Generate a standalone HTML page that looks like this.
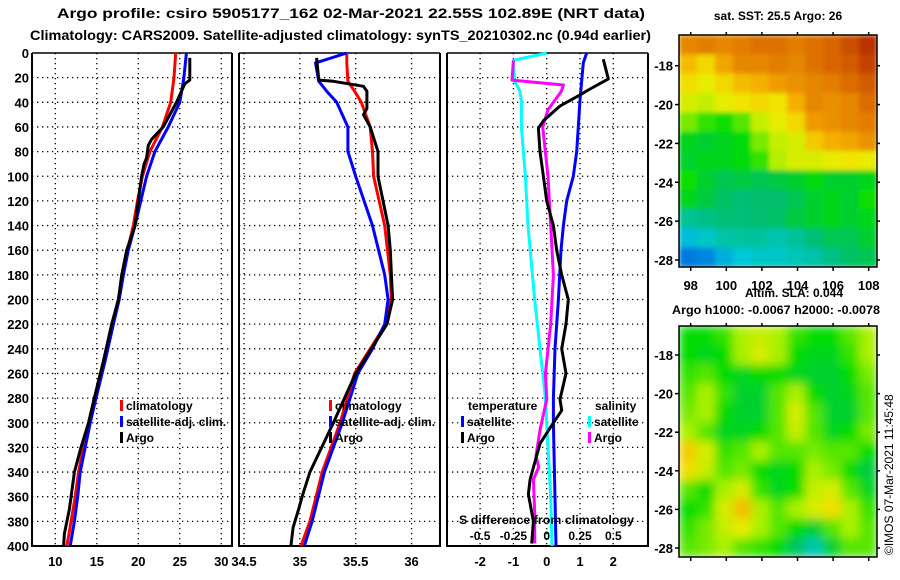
<!DOCTYPE html>
<html><head><meta charset="utf-8"><style>
html,body{margin:0;padding:0;background:#fff;}
svg{display:block;font-family:"Liberation Sans",sans-serif;font-weight:bold;}
</style></head><body>
<svg id="chart" width="900" height="580" viewBox="0 0 900 580" xmlns="http://www.w3.org/2000/svg">
<defs>
<filter id="soft" x="0" y="0" width="1" height="1"><feGaussianBlur stdDeviation="5" edgeMode="duplicate"/></filter>
<filter id="soft2" x="0" y="0" width="1" height="1"><feGaussianBlur stdDeviation="2.5" edgeMode="duplicate"/></filter>
<clipPath id="clipSst"><rect x="679" y="35" width="198" height="232"/></clipPath>
<clipPath id="clipSla"><rect x="679" y="326" width="198" height="231"/></clipPath>
</defs>
<text x="57" y="18" font-size="14" textLength="588" lengthAdjust="spacingAndGlyphs">Argo profile: csiro 5905177_162 02-Mar-2021 22.55S 102.89E (NRT data)</text>
<text x="30" y="40" font-size="14" textLength="621" lengthAdjust="spacingAndGlyphs">Climatology: CARS2009. Satellite-adjusted climatology: synTS_20210302.nc (0.94d earlier)</text>
<g id="plots"></g>
<text x="778" y="20" font-size="12" text-anchor="middle">sat. SST: 25.5 Argo: 26</text>
<text x="745" y="297" font-size="12">Altim. SLA: 0.044</text>
<text x="672" y="314" font-size="12" textLength="208" lengthAdjust="spacingAndGlyphs">Argo h1000: -0.0067 h2000: -0.0078</text>
<text transform="translate(893,555) rotate(-90)" font-size="12" font-weight="normal">©IMOS 07-Mar-2021 11:45:48</text>
</svg>
<script>
// ---- profile data (depth m) ----
const depthClim = [0,20,40,60,80,100,120,140,160,180,200,220,250,280,300,320,340,360,380,400];
const tempClim  = [24.5,24.3,23.9,22.9,21.4,20.5,19.9,19.4,18.7,18.1,17.6,16.9,15.9,14.8,14.1,13.4,12.8,12.4,11.9,11.4];
const tempSat   = [25.8,25.5,25.0,23.6,22.0,21.0,20.3,19.6,18.8,18.2,17.7,17.0,16.0,14.9,14.2,13.6,13.0,12.7,12.3,11.8];
const depthArgoT = [4,22,25,40,60,70,75,85,90,100,120,140,160,180,200,220,250,280,300,320,340,360,370,380,390,400];
const tempArgo   = [26.2,26.2,25.6,24.6,23.0,21.6,21.2,21.0,20.7,20.4,20.0,19.6,18.6,18.0,17.6,16.8,15.8,14.7,14.0,13.1,12.3,11.9,11.7,11.4,11.1,11.0];

const salDepth = [0,8,23,31,40,60,80,100,140,180,200,220,240,260,300,340,380,400];
const salClim  = [35.42,35.42,35.43,35.49,35.55,35.63,35.65,35.66,35.76,35.81,35.82,35.77,35.63,35.49,35.36,35.20,35.09,35.01];
const salSat   = [35.42,35.14,35.17,35.24,35.33,35.43,35.43,35.50,35.65,35.76,35.79,35.76,35.65,35.52,35.38,35.22,35.11,35.04];
const salArgoDepth = [4,22,23,27,31,45,50,60,80,100,140,160,180,200,220,240,260,300,340,360,370,385,400];
const salArgo      = [35.15,35.17,35.30,35.57,35.60,35.60,35.57,35.63,35.70,35.70,35.79,35.81,35.82,35.83,35.78,35.64,35.50,35.30,35.09,35.02,34.99,34.94,34.92];

const diffDepthSatS = [0,6,23,31,40,60,100,140,200,240,280,320,360,400];
const diffSatS      = [0,-0.25,-0.24,-0.2,-0.19,-0.19,-0.16,-0.14,-0.09,-0.05,-0.01,0.01,0.03,0.04];
const diffDepthArgoS = [6,22,26,31,46,60,100,140,180,220,260,281,306,327,336,346,373,398];
const diffArgoS      = [-0.25,-0.26,0.125,0.11,0.01,-0.03,0.01,0.03,0.05,0.03,-0.01,0,-0.05,-0.08,-0.06,-0.1,-0.09,-0.09];
const diffDepthSatT = [0,8,38,60,80,100,120,140,160,200,240,280,300,350,400];
const diffSatT      = [1.2,1.1,1.0,0.95,0.9,0.8,0.6,0.5,0.43,0.35,0.25,0.2,0.2,0.24,0.28];
const diffDepthArgoT = [5,21,30,34,43,55,61,80,100,120,140,160,180,200,220,240,260,281,290,300,317,346,358,380,398];
const diffArgoT      = [1.7,1.85,1.25,1.0,0.4,-0.1,-0.25,-0.2,-0.1,0,0.2,0.3,0.45,0.65,0.58,0.45,0.58,0.4,0.45,0.2,-0.2,-0.5,-0.55,-0.4,-0.45];

// ---- map data (normalized colour values, rows N->S, cols W->E) ----
const sstGrid = [
[.80,.82,.80,.82,.84,.84,.82,.84,.86,.90,.95],
[.70,.66,.74,.80,.80,.82,.80,.84,.86,.88,.92],
[.65,.62,.66,.70,.72,.76,.78,.80,.82,.85,.88],
[.60,.58,.62,.64,.66,.64,.72,.80,.78,.80,.85],
[.52,.48,.46,.50,.58,.62,.66,.76,.78,.80,.82],
[.42,.40,.42,.44,.52,.58,.60,.68,.72,.74,.78],
[.40,.42,.42,.44,.48,.56,.60,.60,.62,.64,.62],
[.46,.40,.36,.38,.36,.38,.40,.44,.40,.40,.42],
[.42,.38,.34,.32,.33,.33,.36,.40,.42,.40,.46],
[.28,.30,.32,.32,.33,.34,.38,.40,.42,.40,.42],
[.18,.22,.26,.27,.27,.25,.28,.32,.36,.36,.40],
[.08,.10,.16,.20,.22,.22,.24,.26,.30,.34,.36]];
const slaGrid = [
[.45,.45,.48,.55,.58,.55,.48,.45,.45,.50,.55],
[.45,.42,.45,.55,.60,.55,.45,.42,.42,.48,.55],
[.48,.50,.45,.42,.45,.45,.42,.40,.40,.45,.52],
[.50,.55,.48,.40,.40,.50,.55,.45,.40,.42,.50],
[.52,.55,.45,.40,.40,.50,.60,.50,.40,.40,.50],
[.55,.50,.42,.42,.45,.50,.58,.50,.42,.45,.52],
[.68,.60,.48,.50,.55,.50,.50,.52,.50,.50,.45],
[.65,.58,.50,.52,.45,.42,.45,.55,.52,.45,.38],
[.50,.45,.55,.60,.48,.42,.45,.58,.60,.50,.42],
[.45,.48,.60,.70,.55,.50,.55,.60,.65,.55,.48],
[.48,.52,.58,.62,.55,.50,.45,.40,.50,.55,.50],
[.50,.52,.55,.50,.48,.45,.35,.25,.40,.50,.50]];
const latTicks = [-18,-20,-22,-24,-26,-28];
const lonTicks = [98,100,102,104,106,108];
const depthTicks = [0,20,40,60,80,100,120,140,160,180,200,220,240,260,280,300,320,340,360,380,400];

const NS = 'http://www.w3.org/2000/svg';
const root = document.getElementById('plots');
function el(tag, attrs, parent, txt){
  const e = document.createElementNS(NS, tag);
  for (const k in attrs) e.setAttribute(k, attrs[k]);
  if (txt !== undefined) e.textContent = txt;
  (parent||root).appendChild(e);
  return e;
}
const Y0 = 53, Y1 = 546;
function yD(d){ return Y0 + d*(Y1-Y0)/400; }

function axisPanel(name, x0, x1, xs, ticks, tickLabels){
  const g = el('g', {});
  
  
  depthTicks.forEach(d => {
    if (d===0 || d===400) return;
    const ln = el('line', {x1:x0, x2:x1, y1:yD(d), y2:yD(d), stroke:'#000','stroke-width':1.3,'stroke-dasharray':'1.3,3.7'}, g);
    
    
  });
  ticks.forEach((t,i) => {
    const x = xs(t);
    const ln = el('line', {x1:x, x2:x, y1:Y0, y2:Y1, stroke:'#000','stroke-width':1.3,'stroke-dasharray':'1.3,3.7'}, g);
    
    
    const tx = el('text', {x:x, y:566, 'font-size':13, 'text-anchor':'middle'}, g, tickLabels[i]);
    
    
  });
  const fr = el('path', {d:`M${x0},${Y0}V${Y1}H${x1}V${Y0}`, fill:'none', stroke:'#000','stroke-width':2}, g);
  
  
  el('line',{x1:x0,x2:x1,y1:Y0,y2:Y0,stroke:'#000','stroke-width':1.5},g);
  return g;
}
function series(name, xs, vals, depths, color){
  const pts = vals.map((v,i)=> xs(v).toFixed(1)+','+yD(depths[i]).toFixed(1)).join(' ');
  const p = el('polyline', {points:pts, fill:'none', stroke:color, 'stroke-width':3, 'stroke-linejoin':'round'});
  
  
}
function legend(name, x, y, color, label){
  const g = el('g', {});
  
  
  el('rect', {x:x, y:y-10, width:3, height:11, fill:color}, g);
  el('text', {x:x+6, y:y, 'font-size':12}, g, label);
}

depthTicks.forEach(d => {
  const t = el('text', {x:29, y:yD(d)+5, 'font-size':13, 'text-anchor':'end'}, root, String(d));
  
  
});

// Panel 1 temperature
const xT = t => 55.3 + (t-10)*8.3;
axisPanel('temperature-panel', 32, 232, xT, [10,15,20,25,30], ['10','15','20','25','30']);
series('temp-climatology-line', xT, tempClim, depthClim, '#f00');
series('temp-satellite-line', xT, tempSat, depthClim, '#00f');
series('temp-argo-line', xT, tempArgo, depthArgoT, '#000');
legend('legend-climatology', 120, 410, '#f00', 'climatology');
legend('legend-satellite-adj', 120, 426, '#00f', 'satellite-adj. clim.');
legend('legend-argo', 120, 442, '#000', 'Argo');

// Panel 2 salinity
const xS = s => 244 + (s-34.5)*111.7;
axisPanel('salinity-panel', 239, 440, xS, [34.5,35,35.5,36], ['34.5','35','35.5','36']);
series('sal-climatology-line', xS, salClim, salDepth, '#f00');
series('sal-satellite-line', xS, salSat, salDepth, '#00f');
series('sal-argo-line', xS, salArgo, salArgoDepth, '#000');
legend('legend-climatology-2', 329, 410, '#f00', 'climatology');
legend('legend-satellite-adj-2', 329, 426, '#00f', 'satellite-adj. clim.');
legend('legend-argo-2', 329, 442, '#000', 'Argo');

// Panel 3 differences
const xDT = t => 546.7 + t*33.3;
const xDS = s => 546.7 + s*133.3;
axisPanel('difference-panel', 447, 648, xDT, [-2,-1,0,1,2], ['-2','-1','0','1','2']);
series('sat-sal-diff-line', xDS, diffSatS, diffDepthSatS, '#0ff');
series('argo-sal-diff-line', xDS, diffArgoS, diffDepthArgoS, '#f0f');
series('sat-temp-diff-line', xDT, diffSatT, diffDepthSatT, '#00f');
series('argo-temp-diff-line', xDT, diffArgoT, diffDepthArgoT, '#000');
el('text',{x:468,y:410,'font-size':12},root,'temperature');
el('text',{x:595,y:410,'font-size':12},root,'salinity');
legend('legend-temp-satellite', 461, 426, '#00f', 'satellite');
legend('legend-temp-argo', 461, 442, '#000', 'Argo');
legend('legend-sal-satellite', 588, 426, '#0ff', 'satellite');
legend('legend-sal-argo', 588, 442, '#f0f', 'Argo');
el('text',{x:459,y:524,'font-size':12,textLength:175,lengthAdjust:'spacingAndGlyphs'},root,'S difference from climatology');
const sTicks=[-0.5,-0.25,0,0.25,0.5], sTickLabels=['-0.5','-0.25','0','0.25','0.5'];
sTicks.forEach((s,i)=>{ const t=el('text',{x:xDS(s),y:540,'font-size':12,'text-anchor':'middle'},root,sTickLabels[i]);
  
   });

// ---- maps ----
const cmapStops = [[0,[0,70,230]],[0.2,[0,200,215]],[0.33,[0,190,110]],[0.45,[0,220,0]],[0.55,[170,240,0]],[0.63,[240,235,0]],[0.72,[245,175,0]],[0.83,[225,120,0]],[1,[170,20,0]]];
function cmap(v){
  for (let i=1;i<cmapStops.length;i++){
    if (v<=cmapStops[i][0]){
      const [a,ca]=cmapStops[i-1],[b,cb]=cmapStops[i]; const f=(v-a)/(b-a);
      return 'rgb('+ca.map((c,k)=>Math.round(c+(cb[k]-c)*f)).join(',')+')';
    }
  }
  return 'rgb(170,20,0)';
}
function drawMap(name, grid, x0, y0, w, h, latY, showLon, filt, clip){
  const g = el('g', {});
  
  
  const cg = el('g', {'clip-path':'url(#'+clip+')'}, g);
  const cells = el('g', {filter:'url(#'+filt+')'}, cg);
  const rows=grid.length, cols=grid[0].length, cw=w/cols, ch=h/rows;
  grid.forEach((row,r)=>row.forEach((v,c)=>{
    const rc = el('rect',{x:(x0+c*cw).toFixed(2),y:(y0+r*ch).toFixed(2),width:(cw+0.6).toFixed(2),height:(ch+0.6).toFixed(2),fill:cmap(v)},cells);
    
    
  }));
  el('rect',{x:x0,y:y0,width:w,height:h,fill:'none',stroke:'#000','stroke-width':1.5},g);
  latTicks.forEach(l=>{
    const y=latY(l);
    el('line',{x1:x0-4,x2:x0,y1:y,y2:y,stroke:'#000','stroke-width':1.5},g);
    el('line',{x1:x0+w,x2:x0+w+3,y1:y,y2:y,stroke:'#000','stroke-width':1.5},g);
    const t=el('text',{x:x0-6,y:y+5,'font-size':13,'text-anchor':'end'},g,String(l));
    
    
  });
  lonTicks.forEach(l=>{
    const x=690.7+(l-98)*17.8;
    el('line',{x1:x,x2:x,y1:y0+h,y2:y0+h+4,stroke:'#000','stroke-width':1.5},g);
    el('line',{x1:x,x2:x,y1:y0-3,y2:y0,stroke:'#000','stroke-width':1.5},g);
    if (showLon){ const t=el('text',{x:x,y:y0+h+23,'font-size':13,'text-anchor':'middle'},g,String(l));
      
       }
  });
}
drawMap('sst-map', sstGrid, 679, 35, 198, 232, l=>65.7+(-18-l)*19.43, true, 'soft2', 'clipSst');
drawMap('sla-map', slaGrid, 679, 326, 198, 231, l=>355+(-18-l)*19.3, false, 'soft', 'clipSla');
</script>
</body></html>
